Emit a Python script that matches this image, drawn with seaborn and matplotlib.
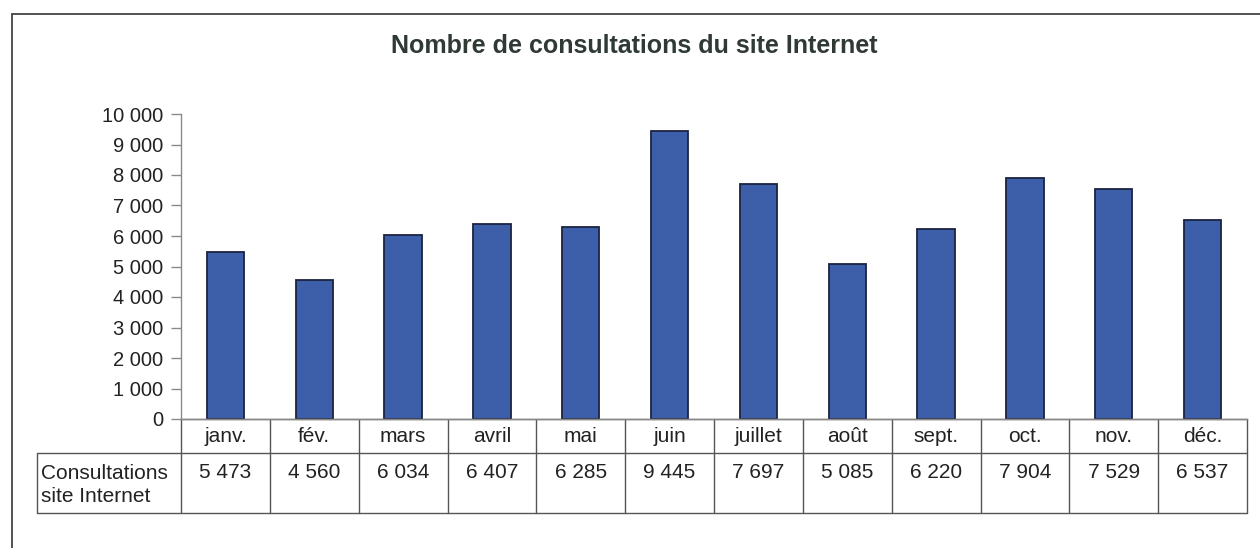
import matplotlib
matplotlib.use("Agg")
import matplotlib.pyplot as plt
from matplotlib.lines import Line2D
import seaborn as sns
import pandas as pd

# ---- data ----
months = ["janv.", "fév.", "mars", "avril", "mai", "juin", "juillet", "août",
          "sept.", "oct.", "nov.", "déc."]
consultations = [5473, 4560, 6034, 6407, 6285, 9445, 7697, 5085, 6220, 7904, 7529, 6537]
yticks = [0, 1000, 2000, 3000, 4000, 5000, 6000, 7000, 8000, 9000, 10000]
title = "Nombre de consultations du site Internet"
row_label = "Consultations\nsite Internet"


def fmt(v):
    return f"{v:,}".replace(",", " ")


sns.set_theme(style="white")
plt.rcParams["font.family"] = ["Liberation Sans", "DejaVu Sans"]

W, H = 1260, 548
fig = plt.figure(figsize=(W / 100, H / 100), dpi=100)
fig.patch.set_facecolor("white")

# axes placement in pixels
x0, x1 = 181, 1247
y_top, y_zero = 114, 419
ax = fig.add_axes([x0 / W, 1 - y_zero / H, (x1 - x0) / W, (y_zero - y_top) / H])

df = pd.DataFrame({"mois": months, "consultations": consultations})
sns.barplot(data=df, x="mois", y="consultations", color="#3D5FAA", saturation=1,
            width=0.42, edgecolor="#1a2340", linewidth=1.3, ax=ax)

ax.set_ylim(0, 10000)
ax.set_xlim(-0.5, len(months) - 0.5)
ax.set_yticks(yticks)
ax.set_yticklabels([fmt(v) for v in yticks])
ax.set_xticks([])
ax.set_xlabel("")
ax.set_ylabel("")
ax.tick_params(axis="y", direction="out", length=7, width=1, color="#8a8a8a",
               labelsize=14.5, labelcolor="#222222", pad=6, left=True)
for s in ["top", "right"]:
    ax.spines[s].set_visible(False)
for s in ["left", "bottom"]:
    ax.spines[s].set_color("#8a8a8a")
    ax.spines[s].set_linewidth(1)
ax.set_facecolor("white")

# ---- data table below ----
ah = y_zero - y_top
aw = x1 - x0


def ay(py):  # pixel y -> axes fraction
    return (y_zero - py) / ah


def axf(px):  # pixel x -> axes fraction
    return (px - x0) / aw


tr = ax.transAxes
lc = "#555555"
lw = 1.0
hdr_bot = 453
row_bot = 513
left_x = 37

def line(xs, ys):
    ax.add_line(Line2D(xs, ys, transform=tr, color=lc, lw=lw, clip_on=False))

# horizontal lines
line([axf(left_x), 1], [ay(hdr_bot), ay(hdr_bot)])
line([axf(left_x), 1], [ay(row_bot), ay(row_bot)])
line([0, 1], [0, 0])
# vertical lines
line([axf(left_x), axf(left_x)], [ay(hdr_bot), ay(row_bot)])
n = len(months)
for i in range(n + 1):
    xf = i / n
    line([xf, xf], [0, ay(row_bot)])

for i, (m, v) in enumerate(zip(months, consultations)):
    xc = (i + 0.5) / n
    ax.text(xc, ay(437), m, transform=tr, ha="center", va="center",
            fontsize=15, color="#222222")
    ax.text(xc, ay(472), fmt(v), transform=tr, ha="center", va="center",
            fontsize=15, color="#222222")

ax.text(axf(41), ay(485), row_label, transform=tr, ha="left", va="center",
        fontsize=15, color="#222222", linespacing=1.3)

# ---- title ----
fig.text(634 / W, 1 - 46 / H, title, ha="center", va="center", fontsize=18,
         fontweight="bold", color="#2f3a35")

# ---- outer chart border (top and left visible) ----
fig.add_artist(Line2D([12 / W, 12 / W], [1 - 14 / H, 0], transform=fig.transFigure,
                      color="#444444", lw=1.3))
fig.add_artist(Line2D([12 / W, 1], [1 - 14 / H, 1 - 14 / H], transform=fig.transFigure,
                      color="#444444", lw=1.3))

fig.savefig("out.png", dpi=100, facecolor="white")
